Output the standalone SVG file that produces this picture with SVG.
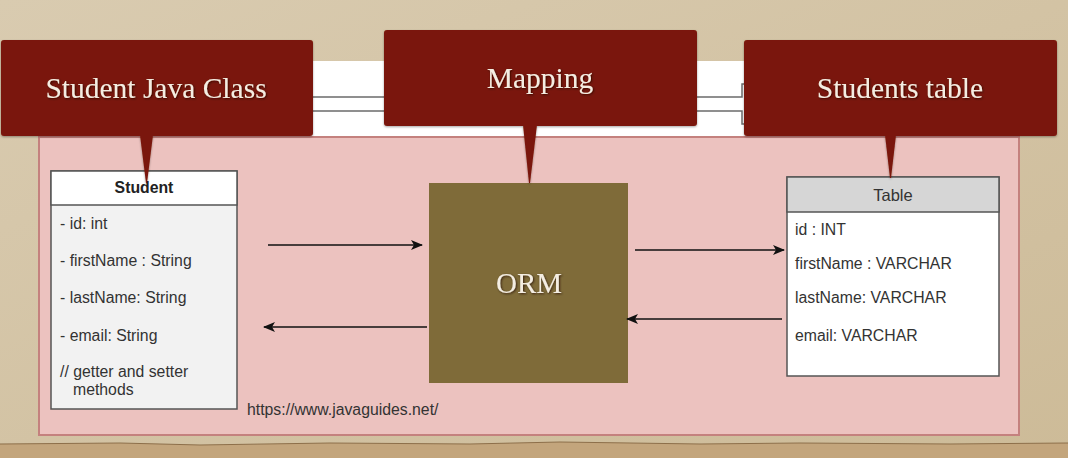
<svg xmlns="http://www.w3.org/2000/svg" width="1068" height="458" viewBox="0 0 1068 458">
  <style>
    .callout { fill: #7a1709; }
    .ctext { font-family: "Liberation Serif", "DejaVu Serif", serif; font-size: 29.5px; fill: #f4ede2; text-anchor: middle; }
    .otext { font-family: "Liberation Serif", "DejaVu Serif", serif; font-size: 29px; fill: #f4ede2; text-anchor: middle; }
    .mono { font-family: "Liberation Sans", Arial, sans-serif; font-size: 15.8px; fill: #333333; }
    .box { stroke: #555555; stroke-width: 1.5; }
    .conn { stroke: #111111; stroke-width: 1.5; fill: none; }
    .thin { stroke: #6b6b6b; stroke-width: 1.5; fill: none; }
  </style>
  <defs>
    <linearGradient id="bg" x1="0" y1="0" x2="1" y2="1">
      <stop offset="0" stop-color="#d9cbb0"/>
      <stop offset="1" stop-color="#cdbb98"/>
    </linearGradient>
    <filter id="shadow" x="-10%" y="-10%" width="120%" height="130%">
      <feDropShadow dx="0" dy="1" stdDeviation="1.2" flood-color="#000000" flood-opacity="0.35"/>
    </filter>
    <filter id="tshadow" x="-10%" y="-20%" width="120%" height="150%">
      <feDropShadow dx="1" dy="1" stdDeviation="0.8" flood-color="#1a0000" flood-opacity="0.7"/>
    </filter>
    <marker id="arrow" viewBox="0 0 12 10" refX="11" refY="5" markerWidth="12" markerHeight="10" markerUnits="userSpaceOnUse" orient="auto">
      <path d="M0,0 L12,5 L0,10 L3,5 Z" fill="#111111"/>
    </marker>
  </defs>

  <!-- background -->
  <g id="background">
    <rect x="0" y="0" width="1068" height="458" fill="url(#bg)"/>
    <path d="M0,444 L120,443 L200,445 L330,443 L470,444 L560,442 L700,444 L800,443 L950,444 L1068,443 L1068,458 L0,458 Z" fill="#c3a57c"/>
    <path d="M0,444 L120,443 L200,445 L330,443 L470,444 L560,442 L700,444 L800,443 L950,444 L1068,443" fill="none" stroke="#8d6f4a" stroke-width="1"/>
    <rect x="38" y="61" width="981" height="76" fill="#ffffff"/>
    <rect x="39" y="137" width="980" height="298" fill="#ecc2bf" stroke="#c4817e" stroke-width="2"/>
  </g>

  <!-- strip lines -->
  <g id="strip-lines">
    <path class="thin" d="M300,97 L742,97 L742,84 L750,84"/>
    <path class="thin" d="M300,111 L742,111 L742,124 L750,124"/>
  </g>

  <!-- Student class node -->
  <g id="student-class">
    <rect class="box" x="51" y="171" width="186" height="238" fill="#f2f2f2"/>
    <rect class="box" x="51" y="171" width="186" height="34" fill="#ffffff"/>
    <text x="144" y="193" text-anchor="middle" style="font-family:'Liberation Sans',Arial,sans-serif;font-size:15.8px;font-weight:bold;fill:#222222">Student</text>
    <text class="mono" x="60" y="229">- id: int</text>
    <text class="mono" x="60" y="266">- firstName : String</text>
    <text class="mono" x="60" y="303">- lastName: String</text>
    <text class="mono" x="60" y="341">- email: String</text>
    <text class="mono" x="60" y="377">// getter and setter</text>
    <text class="mono" x="73" y="395">methods</text>
  </g>

  <!-- ORM node -->
  <g id="orm">
    <rect x="429" y="183" width="199" height="200" fill="#7f6b39"/>
    <text class="otext" x="529" y="293" filter="url(#tshadow)">ORM</text>
  </g>

  <!-- Table node -->
  <g id="table">
    <rect class="box" x="787" y="177" width="212" height="199" fill="#ffffff"/>
    <rect class="box" x="787" y="177" width="212" height="35" fill="#d6d6d6"/>
    <text x="893" y="201" text-anchor="middle" style="font-family:'Liberation Sans',Arial,sans-serif;font-size:16.5px;fill:#333333">Table</text>
    <text class="mono" x="795" y="235">id : INT</text>
    <text class="mono" x="795" y="269">firstName : VARCHAR</text>
    <text class="mono" x="795" y="303">lastName: VARCHAR</text>
    <text class="mono" x="795" y="341">email: VARCHAR</text>
  </g>

  <!-- URL -->
  <g id="url">
    <text class="mono" x="247" y="415">https://www.javaguides.net/</text>
  </g>

  <!-- connectors -->
  <g id="connectors">
    <line class="conn" x1="268" y1="245" x2="422" y2="245" marker-end="url(#arrow)"/>
    <line class="conn" x1="427" y1="327" x2="264" y2="327" marker-end="url(#arrow)"/>
    <line class="conn" x1="635" y1="250" x2="784" y2="250" marker-end="url(#arrow)"/>
    <line class="conn" x1="782" y1="319" x2="627" y2="319" marker-end="url(#arrow)"/>
  </g>

  <!-- callouts -->
  <g id="callout-student-java-class" filter="url(#shadow)">
    <rect class="callout" x="1" y="40" width="312" height="96" rx="3"/>
    <path class="callout" d="M140,135 L153,135 L147,183 L146,183 Z"/>
    <text class="ctext" x="156" y="98" filter="url(#tshadow)">Student Java Class</text>
  </g>
  <g id="callout-mapping" filter="url(#shadow)">
    <rect class="callout" x="384" y="30" width="313" height="96" rx="3"/>
    <path class="callout" d="M523,125 L537,125 L530,183 L529,183 Z"/>
    <text class="ctext" x="540" y="88" filter="url(#tshadow)">Mapping</text>
  </g>
  <g id="callout-students-table" filter="url(#shadow)">
    <rect class="callout" x="744" y="40" width="313" height="96" rx="3"/>
    <path class="callout" d="M885,135 L896,135 L891,178 L890,178 Z"/>
    <text class="ctext" x="900" y="98" filter="url(#tshadow)">Students table</text>
  </g>
</svg>
